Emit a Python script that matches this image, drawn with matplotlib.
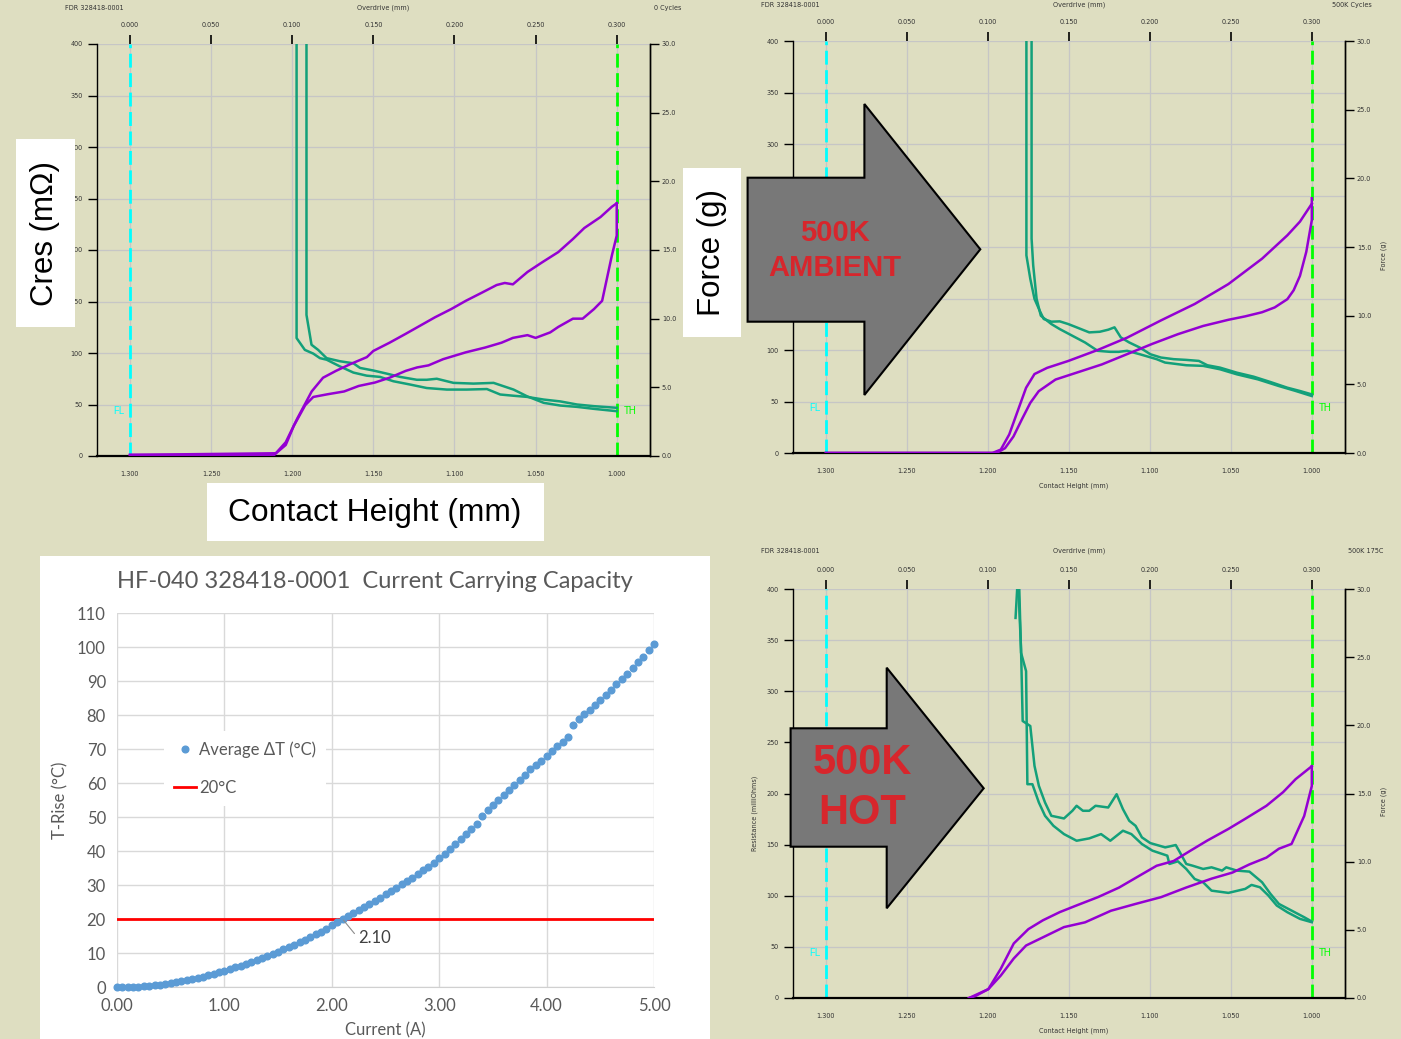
import numpy as np
import matplotlib.pyplot as plt
from matplotlib.patches import Rectangle, Polygon

plt.rcParams['font.family'] = ['Liberation Sans', 'DejaVu Sans']

# ---------------- data: FDR curves (contact height mm, resistance mOhm / force g) ----------------
# 0 cycles
h0_ra = [1.1973, 1.1973, 1.1922, 1.1870, 1.1829, 1.1788, 1.1706, 1.1623, 1.1541, 1.1459, 1.1377, 1.1274,
         1.1171, 1.1047, 1.0924, 1.0800, 1.0718, 1.0636, 1.0553, 1.0450, 1.0348, 1.0245, 1.0142, 1.0000]
r0_a = [400, 114.5, 103, 99.4, 95, 93.5, 87, 81, 78, 76.8, 72.6, 69.4,
        66, 64.5, 64.5, 65, 59.7, 58.5, 57.4, 54.8, 53, 50, 48.4, 46.8]
h0_rb = [1.1912, 1.1912, 1.1881, 1.1840, 1.1788, 1.1706, 1.1623, 1.1582, 1.1500, 1.1418, 1.1335, 1.1232,
         1.1171, 1.1109, 1.1006, 1.0883, 1.0759, 1.0636, 1.0553, 1.0450, 1.0348, 1.0245, 1.0142, 1.0000]
r0_b = [400, 137, 108, 103, 95, 92, 90, 85.5, 83, 80, 76.8, 74,
        74, 75, 71, 70.3, 71, 64.5, 58, 51.6, 49, 47.7, 45.8, 43.5]
h0_fu = [1.300, 1.211, 1.204, 1.197, 1.188, 1.181, 1.173, 1.164, 1.154, 1.150, 1.140, 1.130, 1.121, 1.112,
         1.102, 1.093, 1.083, 1.074, 1.069, 1.064, 1.055, 1.046, 1.036, 1.027, 1.020, 1.010, 1.003, 1.000]
f0_up = [0.08, 0.08, 1.0, 2.7, 4.7, 5.7, 6.2, 6.7, 7.2, 7.65, 8.25, 8.9, 9.5, 10.1,
         10.7, 11.3, 11.9, 12.45, 12.6, 12.5, 13.4, 14.1, 14.85, 15.8, 16.6, 17.4, 18.15, 18.4]
h0_fd = [1.000, 1.000, 1.003, 1.009, 1.014, 1.021, 1.027, 1.036, 1.041, 1.050, 1.055, 1.064, 1.071, 1.081, 1.093,
         1.107, 1.116, 1.123, 1.130, 1.140, 1.149, 1.159, 1.168, 1.178, 1.187, 1.192, 1.199, 1.204, 1.210, 1.300]
f0_dn = [18.4, 16.05, 14.6, 11.3, 10.7, 10.0, 10.0, 9.4, 9.0, 8.6, 8.8, 8.6, 8.25, 7.9, 7.55,
         7.05, 6.6, 6.45, 6.2, 5.7, 5.35, 5.1, 4.7, 4.5, 4.3, 3.7, 2.2, 0.8, 0.2, 0.08]

# 500K cycles ambient
h1_ra = [1.1762, 1.1762, 1.1738, 1.1712, 1.1680, 1.1655, 1.1608, 1.1556, 1.1504, 1.1452, 1.1374, 1.1309,
         1.1257, 1.1218, 1.1179, 1.1127, 1.1062, 1.0997, 1.0932, 1.0853, 1.0775, 1.0697, 1.0645, 1.0567,
         1.0463, 1.0359, 1.0255, 1.0151, 1.0073, 1.0000]
r1_a = [400, 191.9, 169.1, 149.6, 138.2, 130.1, 127.5, 127.8, 125.2, 122.0, 117.1, 117.7,
        119.7, 122.0, 112.2, 107.3, 102.4, 95.9, 92.7, 91.1, 90.4, 89.4, 85.2, 82.9,
        78.0, 74.1, 68.9, 63.4, 60.2, 56.9]
h1_rb = [1.1730, 1.1730, 1.1720, 1.1699, 1.1673, 1.1608, 1.1556, 1.1478, 1.1400, 1.1322, 1.1244, 1.1192,
         1.1140, 1.1062, 1.0958, 1.0906, 1.0775, 1.0671, 1.0567, 1.0463, 1.0333, 1.0203, 1.0099, 1.0000]
r1_b = [400, 208.1, 182.1, 149.6, 133.3, 125.2, 120.3, 113.8, 107.3, 99.2, 98.2, 98.2,
        99.2, 95.9, 91.1, 87.8, 85.2, 84.6, 81.3, 76.4, 71.5, 65.0, 60.2, 55.3]
h1_fu = [1.300, 1.1972, 1.1920, 1.1868, 1.1816, 1.1764, 1.1712, 1.1634, 1.1504, 1.1322, 1.1140, 1.0932,
         1.0723, 1.0515, 1.0307, 1.0151, 1.0073, 1.0000]
f1_up = [0, 0, 0.25, 1.35, 3.05, 4.75, 5.75, 6.2, 6.7, 7.5, 8.4, 9.65,
         10.85, 12.3, 14.15, 15.85, 16.85, 18.15]
h1_fd = [1.0000, 1.0000, 1.0034, 1.0073, 1.0112, 1.0151, 1.0229, 1.0307, 1.0411, 1.0515, 1.0671, 1.0827,
         1.0984, 1.1140, 1.1296, 1.1452, 1.1582, 1.1686, 1.1738, 1.1790, 1.1842, 1.1894, 1.1946, 1.300]
f1_dn = [18.55, 16.95, 14.65, 12.9, 11.85, 11.2, 10.6, 10.25, 9.95, 9.7, 9.25, 8.65,
         7.95, 7.2, 6.45, 5.85, 5.35, 4.5, 3.65, 2.45, 1.2, 0.35, 0, 0]

# 500K cycles 175C
h2_ra = [1.1811, 1.1795, 1.1785, 1.1738, 1.1712, 1.1685, 1.1647, 1.1608, 1.1530, 1.1478, 1.1452, 1.1413,
         1.1374, 1.1335, 1.1257, 1.1205, 1.1166, 1.1127, 1.1088, 1.1049, 1.0997, 1.0905, 1.0840, 1.0814,
         1.0775, 1.0736, 1.0671, 1.0619, 1.0554, 1.0528, 1.0463, 1.0385, 1.0307, 1.0255, 1.0203, 1.0125,
         1.0047, 1.0000]
r2_a = [400, 340.8, 270.9, 266.0, 227.0, 207.5, 191.2, 178.2, 175.6, 183.1, 188.0, 183.1,
        183.1, 188.0, 186.3, 199.3, 184.7, 173.3, 168.4, 157.1, 151.5, 147.3, 149.6, 142.4,
        131.1, 129.4, 126.2, 127.8, 124.6, 127.8, 124.6, 123.6, 113.2, 101.8, 92.0, 85.5,
        79.0, 74.8]
h2_rb = [1.1829, 1.1819, 1.1806, 1.1795, 1.1764, 1.1756, 1.1725, 1.1685, 1.1647, 1.1595, 1.1530, 1.1452,
         1.1374, 1.1301, 1.1244, 1.1166, 1.1114, 1.1049, 1.0984, 1.0892, 1.0879, 1.0827, 1.0775, 1.0723,
         1.0671, 1.0619, 1.0515, 1.0411, 1.0372, 1.0320, 1.0268, 1.0216, 1.0151, 1.0073, 1.0000]
r2_b = [371.7, 400, 400, 337.6, 319.7, 209.1, 209.1, 191.2, 178.2, 168.4, 160.3, 153.8,
        156.1, 160.3, 153.8, 163.6, 160.3, 150.6, 144.1, 139.2, 131.1, 133.7, 126.2, 116.4,
        113.2, 105.0, 102.8, 106.7, 110.6, 108.3, 100.2, 90.4, 83.9, 77.4, 74.1]
h2_fu = [1.2116, 1.1997, 1.1920, 1.1840, 1.1750, 1.1660, 1.1556, 1.1450, 1.1320, 1.1190, 1.1060,
         1.0958, 1.0853, 1.0750, 1.0645, 1.0515, 1.0410, 1.0280, 1.0177, 1.0100, 1.0000]
f2_up = [0, 0.65, 2.15, 4.0, 5.05, 5.7, 6.3, 6.8, 7.4, 8.1, 9.0,
         9.7, 10.05, 10.8, 11.55, 12.4, 13.15, 14.1, 15.1, 16.05, 17.0]
h2_fd = [1.0000, 1.0000, 1.0047, 1.0125, 1.0203, 1.0280, 1.0385, 1.0490, 1.0620, 1.0776, 1.0930,
         1.1088, 1.1240, 1.1400, 1.1530, 1.1660, 1.1764, 1.1840, 1.1920, 1.1997, 1.2076, 1.2116]
f2_dn = [17.0, 15.55, 13.35, 11.3, 10.95, 10.3, 9.8, 9.2, 8.75, 8.1, 7.4,
         6.9, 6.4, 5.55, 5.2, 4.45, 3.85, 2.9, 1.65, 0.65, 0.15, 0]

height_ticks = [1.300, 1.250, 1.200, 1.150, 1.100, 1.050, 1.000]
overdrive_ticks = [0.000, 0.050, 0.100, 0.150, 0.200, 0.250, 0.300]
res_ticks = [0, 50, 100, 150, 200, 250, 300, 350, 400]
force_ticks = [0, 5, 10, 15, 20, 25, 30]

# ---------------- data: current carrying capacity ----------------
current = [0.00, 0.05, 0.10, 0.15, 0.20, 0.25, 0.30, 0.35, 0.40, 0.45,
           0.50, 0.55, 0.60, 0.65, 0.70, 0.75, 0.80, 0.85, 0.90, 0.95,
           1.00, 1.05, 1.10, 1.15, 1.20, 1.25, 1.30, 1.35, 1.40, 1.45,
           1.50, 1.55, 1.60, 1.65, 1.70, 1.75, 1.80, 1.85, 1.90, 1.95,
           2.00, 2.05, 2.10, 2.15, 2.20, 2.25, 2.30, 2.35, 2.40, 2.45,
           2.50, 2.55, 2.60, 2.65, 2.70, 2.75, 2.80, 2.85, 2.90, 2.95,
           3.00, 3.05, 3.10, 3.15, 3.20, 3.25, 3.30, 3.35, 3.40, 3.45,
           3.50, 3.55, 3.60, 3.65, 3.70, 3.75, 3.80, 3.85, 3.90, 3.95,
           4.00, 4.05, 4.10, 4.15, 4.20, 4.25, 4.30, 4.35, 4.40, 4.45,
           4.50, 4.55, 4.60, 4.65, 4.70, 4.75, 4.80, 4.85, 4.90, 4.95, 5.00]
t_rise = [0.0, 0.0, 0.0, 0.05, 0.1, 0.2, 0.35, 0.5, 0.7, 0.9,
          1.2, 1.4, 1.7, 2.0, 2.3, 2.6, 3.0, 3.4, 3.8, 4.3,
          4.8, 5.3, 5.8, 6.3, 6.8, 7.3, 7.9, 8.5, 9.1, 9.8,
          10.4, 11.1, 11.8, 12.5, 13.2, 13.9, 14.7, 15.5, 16.3, 17.2,
          18.1, 19.0, 20.0, 20.9, 21.8, 22.7, 23.6, 24.5, 25.4, 26.3,
          27.3, 28.2, 29.2, 30.2, 31.2, 32.2, 33.3, 34.3, 35.4, 36.6,
          37.9, 39.2, 40.6, 42.0, 43.4, 44.9, 46.4, 48.0, 50.2, 52.0,
          53.5, 55.0, 56.5, 58.0, 59.5, 61.0, 62.5, 64.0, 65.3, 66.6,
          68.0, 69.5, 71.0, 72.2, 73.5, 77.0, 78.8, 80.3, 81.6, 83.0,
          84.5, 86.0, 87.5, 89.0, 90.5, 92.0, 93.8, 95.5, 97.2, 99.0, 101.0]
limit_rise = 20
cross_current = 2.10

# ---------------- figure ----------------
W, H = 1401, 1039
BG = '#dedec1'
GREEN = '#13a07a'
PURPLE = '#9400d3'
fig = plt.figure(figsize=(W / 100, H / 100), dpi=100, facecolor=BG)


def box(x0, y0, x1, y1):
    return [x0 / W, 1 - y1 / H, (x1 - x0) / W, (y1 - y0) / H]


def ftext(x, y, s, **kw):
    return fig.text(x / W, 1 - y / H, s, **kw)


SMALL = dict(fontsize=4.7, color='#333333', family=['DejaVu Sans'])


def fdr_panel(px, head_y, tag, tag_x, res_a, res_b, f_up, f_dn, side_labels=True):
    x0, y0, x1, y1 = px
    ax = fig.add_axes(box(x0, y0, x1, y1))
    ax.set_facecolor(BG)
    ax.set_xlim(1.3203, 0.9795)
    ax.set_ylim(0, 400)
    ax.set_xticks(height_ticks)
    ax.set_xticklabels([f'{t:.3f}' for t in height_ticks], **SMALL)
    ax.set_yticks(res_ticks)
    ax.set_yticklabels([str(t) for t in res_ticks], **SMALL)
    ax.grid(color='#c6c6c6', lw=0.9)
    ax.tick_params(axis='x', length=0, pad=11)
    ax.tick_params(axis='y', direction='out', length=6.5, width=1, pad=4,
                   left=True, right=True, color='black')
    ax.spines['top'].set_visible(False)
    ax.spines['bottom'].set_linewidth(1.6)
    ax.spines['left'].set_linewidth(1.0)
    ax.spines['right'].set_linewidth(1.0)

    ax.axvline(1.300, color='#00ffff', lw=2.0, ls=(0, (5, 2)), zorder=2)
    ax.axvline(1.000, color='#00ff00', lw=2.0, ls=(0, (5, 2)), zorder=2)
    ax.text(1.3035, 44, 'FL', color='#00ffff', fontsize=7, ha='right', va='center')
    ax.text(0.9955, 44, 'TH', color='#00ff00', fontsize=7, ha='left', va='center')

    ax.plot(res_a[0], res_a[1], color=GREEN, lw=1.8, zorder=4)
    ax.plot(res_b[0], res_b[1], color=GREEN, lw=1.8, zorder=4)

    tw = ax.twinx()
    tw.set_ylim(0, 30)
    tw.set_yticks(force_ticks)
    tw.set_yticklabels([f'{t:.1f}' for t in force_ticks], **SMALL)
    tw.tick_params(axis='y', direction='out', length=6.5, width=1, pad=2, color='black')
    for s in ('top', 'left', 'bottom'):
        tw.spines[s].set_visible(False)
    tw.spines['right'].set_linewidth(1.0)
    tw.plot(f_up[0], f_up[1], color=PURPLE, lw=1.8, zorder=4)
    tw.plot(f_dn[0], f_dn[1], color=PURPLE, lw=1.8, zorder=4)

    sec = ax.secondary_xaxis('top', functions=(lambda h: 1.3 - h, lambda o: 1.3 - o))
    sec.set_xticks(overdrive_ticks)
    sec.set_xticklabels([f'{t:.3f}' for t in overdrive_ticks], **SMALL)
    sec.tick_params(direction='out', length=6.5, width=1.2, pad=5, color='black')
    sec.spines['top'].set_visible(False)

    ftext(x0 - 32, head_y, 'FDR 328418-0001', ha='left', va='center', **SMALL)
    ftext((x0 + x1) / 2 + 10, head_y, 'Overdrive (mm)', ha='center', va='center', **SMALL)
    ftext(tag_x, head_y, tag, ha='right', va='center', **SMALL)
    if side_labels:
        ftext((x0 + x1) / 2 + 5, y1 + 33, 'Contact Height (mm)', ha='center', va='center', **SMALL)
        ftext(x1 + 39, (y0 + y1) / 2 + 8, 'Force (g)', ha='center', va='center', rotation=90, **SMALL)
    return ax


fdr_panel((97, 44, 650, 456), 8, '0 Cycles', 681,
          (h0_ra, r0_a), (h0_rb, r0_b), (h0_fu, f0_up), (h0_fd, f0_dn), side_labels=False)
fdr_panel((793, 41, 1345, 453), 5, '500K Cycles', 1372,
          (h1_ra, r1_a), (h1_rb, r1_b), (h1_fu, f1_up), (h1_fd, f1_dn))
fdr_panel((793, 589, 1345, 998), 551, '500K 175C', 1383,
          (h2_ra, r2_a), (h2_rb, r2_b), (h2_fu, f2_up), (h2_fd, f2_dn))
ftext(755, 813, 'Resistance (milliOhms)', ha='center', va='center', rotation=90, **SMALL)

# ---------------- current carrying capacity chart ----------------
fig.patches.append(Rectangle((40 / W, 0), 670 / W, (1039 - 556) / H, transform=fig.transFigure,
                             facecolor='white', edgecolor='none', zorder=-1))
XL = ['Lato', 'DejaVu Sans']
GREY = '#595959'
ax2 = fig.add_axes(box(117, 613, 654, 987))
ax2.set_facecolor('white')
ax2.set_xlim(0, 5)
ax2.set_ylim(0, 110)
xt = [0, 1, 2, 3, 4, 5]
ax2.set_xticks(xt)
ax2.set_xticklabels([f'{t:.2f}' for t in xt], fontsize=12, color=GREY, family=XL)
yt = list(range(0, 111, 10))
ax2.set_yticks(yt)
ax2.set_yticklabels([str(t) for t in yt], fontsize=12, color=GREY, family=XL)
ax2.tick_params(length=0, pad=8)
ax2.grid(color='#d9d9d9', lw=1)
ax2.set_axisbelow(True)
for s in ax2.spines.values():
    s.set_visible(False)
ax2.spines['bottom'].set_visible(True)
ax2.spines['bottom'].set_color('#d0d0d0')

ax2.plot(current, t_rise, 'o', ms=4.8, color='#5b9bd5', mec='#5b9bd5', label='Average ΔT (°C)',
         zorder=3, clip_on=False)
ax2.axhline(limit_rise, color='#ff0000', lw=2, label='20°C', zorder=2)
ax2.annotate(f'{cross_current:.2f}', xy=(cross_current, limit_rise), xytext=(2.245, 14.4),
             fontsize=12, color='#404040', family=XL, ha='left', va='center',
             arrowprops=dict(arrowstyle='-', color='#8c8c8c', lw=0.8, shrinkA=1, shrinkB=1,
                             relpos=(0, 0.5)))
leg = ax2.legend(loc='upper left', bbox_to_anchor=(0.0726, 0.706), frameon=True, fancybox=False,
                 facecolor='white', edgecolor='none', framealpha=1, labelspacing=1.3,
                 handlelength=1.3, handletextpad=0.2, borderpad=0.6,
                 prop=dict(family=XL, size=12))
for t in leg.get_texts():
    t.set_color(GREY)

ftext(375, 581, 'HF-040 328418-0001  Current Carrying Capacity', ha='center', va='center',
      fontsize=17, color=GREY, family=XL)
ftext(385, 1030, 'Current (A)', ha='center', va='center', fontsize=12, color=GREY, family=XL)
ftext(60, 800, 'T-Rise (°C)', ha='center', va='center', rotation=90, fontsize=12, color=GREY, family=XL)

# ---------------- overlay callouts ----------------
for (x0, y0, x1, y1) in [(16, 139, 75, 327), (683, 168, 741, 337), (207, 483, 544, 541)]:
    fig.patches.append(Rectangle((x0 / W, 1 - y1 / H), (x1 - x0) / W, (y1 - y0) / H,
                                 transform=fig.transFigure, facecolor='white', edgecolor='none',
                                 zorder=10))
ftext(45.5, 233, 'Cres (mΩ)', ha='center', va='center', rotation=90, fontsize=22.5, zorder=11)
ftext(712, 253, 'Force (g)', ha='center', va='center', rotation=90, fontsize=22.5, zorder=11)
ftext(375, 513, 'Contact Height (mm)', ha='center', va='center', fontsize=22.9, zorder=11)

arrows = [
    [(747.6, 177.7), (864.4, 177.7), (864.4, 104), (980.3, 249.3), (864.4, 395), (864.4, 321.7), (747.6, 321.7)],
    [(790.6, 728.3), (886.7, 728.3), (886.7, 667.7), (983.7, 788.3), (886.7, 908.3), (886.7, 846.7), (790.6, 846.7)],
]
for pts in arrows:
    fig.patches.append(Polygon([(x / W, 1 - y / H) for x, y in pts], closed=True,
                               transform=fig.transFigure, facecolor='#787878', edgecolor='black',
                               lw=1.5, zorder=10))
RED = '#d7262c'
ftext(835, 233, '500K', ha='center', va='center', fontsize=21, fontweight='bold', color=RED, zorder=11)
ftext(835, 268, 'AMBIENT', ha='center', va='center', fontsize=21, fontweight='bold', color=RED, zorder=11)
ftext(862, 763, '500K', ha='center', va='center', fontsize=30, fontweight='bold', color=RED, zorder=11)
ftext(862, 813, 'HOT', ha='center', va='center', fontsize=30, fontweight='bold', color=RED, zorder=11)

fig.savefig('out.png', dpi=100, facecolor=BG)
